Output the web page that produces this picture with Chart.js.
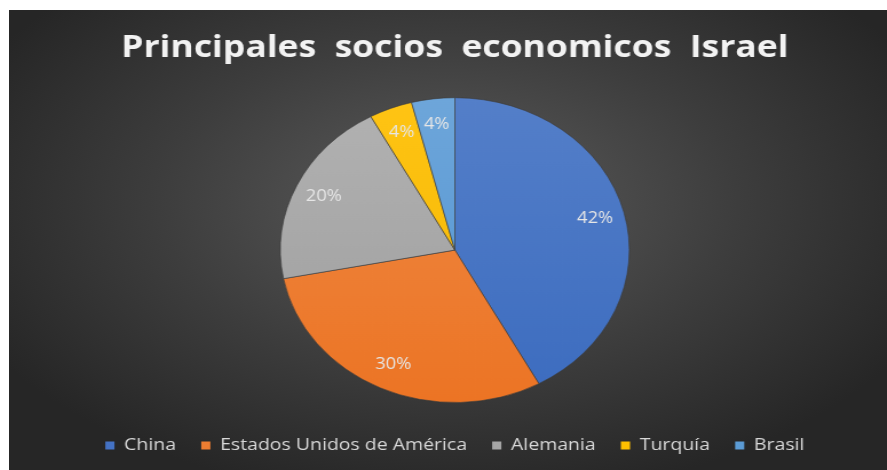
<!DOCTYPE html>
<html>
<head>
<meta charset="utf-8">
<script src="https://cdn.jsdelivr.net/npm/chart.js@4/dist/chart.umd.min.js"></script>
<style>
  html, body { margin: 0; padding: 0; background: #fff; }
  #marco {
    position: absolute; left: 9px; top: 10px; width: 878px; height: 460px;
    background: radial-gradient(ellipse 60% 65% at 50% 42%, #5c5c5c 0%, #3d3d3d 55%, #262626 100%);
    overflow: hidden;
  }
  /* el grafico original esta estirado en horizontal */
  #estirado { width: 767px; height: 460px; transform: scaleX(1.1447); transform-origin: 0 0; }
</style>
</head>
<body>
<div id="marco"><div id="estirado"><canvas id="pie-chart"></canvas></div></div>
<script>
  // Datos del grafico
  const paises = ["China", "Estados Unidos de América", "Alemania", "Turquía", "Brasil"];
  const porcentajes = [42, 30, 20, 4, 4];
  const colores = ["#4472C4", "#ED7D31", "#A5A5A5", "#FFC000", "#5B9BD5"];

  // Degradado suave de arriba hacia abajo en cada porcion
  function degradado(context) {
    const chart = context.chart;
    const area = chart.chartArea;
    const base = colores[context.dataIndex];
    if (!area) return base;
    const g = chart.ctx.createLinearGradient(0, area.top, 0, area.bottom);
    g.addColorStop(0, Chart.helpers.color(base).lighten(0.08).rgbString());
    g.addColorStop(1, Chart.helpers.color(base).darken(0.05).rgbString());
    return g;
  }

  // Etiquetas de porcentaje dentro de cada porcion
  const etiquetas = {
    id: 'etiquetas',
    afterLayout(chart) {
      // bajar la leyenda sin agrandar el pastel
      chart.legend.top += 12;
      chart.legend.bottom += 12;
    },
    afterDatasetsDraw(chart) {
      const ctx = chart.ctx;
      const meta = chart.getDatasetMeta(0);
      ctx.save();
      ctx.font = '16px "Open Sans"';
      ctx.fillStyle = '#e6e6e6';
      ctx.textAlign = 'center';
      ctx.textBaseline = 'middle';
      meta.data.forEach((arc, i) => {
        const mid = (arc.startAngle + arc.endAngle) / 2;
        const r = arc.outerRadius * 0.83;
        ctx.fillText(porcentajes[i] + '%', arc.x + Math.cos(mid) * r, arc.y + Math.sin(mid) * r);
      });
      ctx.restore();
    }
  };

  new Chart(document.getElementById("pie-chart"), {
    type: 'pie',
    data: {
      labels: paises,
      datasets: [{
        data: porcentajes,
        backgroundColor: degradado,
        borderColor: 'rgba(60,60,60,0.6)',
        borderWidth: 1
      }]
    },
    options: {
      responsive: true,
      maintainAspectRatio: false,
      animation: false,
      layout: { padding: { left: 12, bottom: 18 } },
      plugins: {
        title: {
          display: true,
          text: 'Principales  socios  economicos  Israel',
          color: '#f2f2f2',
          font: { family: '"Open Sans"', size: 31, weight: 'bold' },
          padding: { top: 20, bottom: 30 }
        },
        legend: {
          position: 'bottom',
          labels: {
            color: '#d9d9d9',
            font: { family: '"Open Sans"', size: 17 },
            boxWidth: 8,
            boxHeight: 8,
            padding: 22,
            generateLabels(chart) {
              return paises.map((p, i) => ({
                text: p, fillStyle: colores[i], strokeStyle: colores[i],
                lineWidth: 0, fontColor: '#d9d9d9', index: i, hidden: false
              }));
            }
          }
        },
        tooltip: { enabled: false }
      }
    },
    plugins: [etiquetas]
  });
</script>
</body>
</html>
